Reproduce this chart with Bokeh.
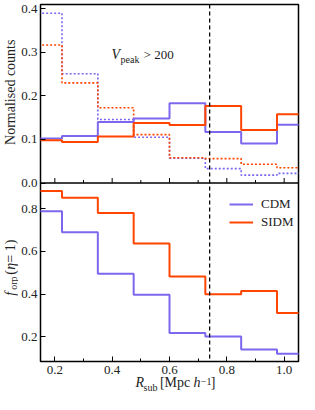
import math
from bokeh.plotting import figure
from bokeh.models import (Range1d, Span, Label, Legend, LegendItem, FixedTicker,
                          CustomJSTickFormatter, PrintfTickFormatter)
from bokeh.layouts import column, row
from bokeh.embed import file_html
from bokeh.resources import INLINE

# ---------------- data ----------------
bin_edges = [0.1, 0.225, 0.35, 0.475, 0.6, 0.725, 0.85, 0.975, 1.1]
cdm_counts = [0.102, 0.108, 0.140, 0.148, 0.183, 0.117, 0.091, 0.134]
sidm_counts = [0.098, 0.094, 0.107, 0.138, 0.133, 0.177, 0.122, 0.158]
cdm_counts_dotted = [0.390, 0.251, 0.146, 0.105, 0.057, 0.033, 0.018, 0.022]
sidm_counts_dotted = [0.317, 0.230, 0.173, 0.111, 0.058, 0.056, 0.043, 0.035]
cdm_forp = [0.788, 0.690, 0.495, 0.397, 0.218, 0.201, 0.140, 0.120]
sidm_forp = [0.883, 0.852, 0.780, 0.637, 0.482, 0.399, 0.415, 0.311]
r_cut = 0.74
x_ticks = [0.2, 0.4, 0.6, 0.8, 1.0]
x_minor = [0.3, 0.5, 0.7, 0.9]
top_y_ticks = [0.0, 0.1, 0.2, 0.3, 0.4]
bot_y_ticks = [0.2, 0.4, 0.6, 0.8]

CDM_C = "#7b68ee"
SIDM_C = "#ff4500"
TXT = "#222222"
SERIF = "Liberation Serif"

# top panel (0..TOP_MAX) occupies the upper half of the frame,
# bottom panel (BOT_MIN..BOT_MAX) the lower half
TOP_MAX = 0.41
BOT_MIN, BOT_MAX = 0.084, 0.921

YL_W = 18
MAIN_W = 284
MAIN_H = 376
XL_H = 18
LEFT = 19
RIGHT = 4
TOP = 4

main = figure(width=MAIN_W, height=MAIN_H,
              x_range=Range1d(0.15, 1.05), y_range=Range1d(-TOP_MAX, TOP_MAX),
              output_backend="svg", toolbar_location=None,
              min_border_left=LEFT, min_border_right=RIGHT,
              min_border_top=TOP, min_border_bottom=0)
main.extra_y_ranges = {"bot": Range1d(BOT_MIN, BOT_MAX + (BOT_MAX - BOT_MIN))}
main.outline_line_color = "black"
main.outline_line_width = 1.5
main.xgrid.visible = False
main.ygrid.visible = False


def to_main(v):
    # bottom-panel value -> position on the main y range
    return -TOP_MAX + (v - BOT_MIN) / (BOT_MAX - BOT_MIN) * TOP_MAX


yt = top_y_ticks + [to_main(v) for v in bot_y_ticks]

for ax in (main.xaxis[0], main.yaxis[0]):
    ax.axis_line_color = None
    ax.major_tick_in = 5
    ax.major_tick_out = 0
    ax.minor_tick_in = 3
    ax.minor_tick_out = 0
    ax.major_tick_line_color = "black"
    ax.minor_tick_line_color = "black"
    ax.major_label_text_font = SERIF
    ax.major_label_text_font_size = "13px"
    ax.major_label_text_color = TXT
main.xaxis[0].formatter = PrintfTickFormatter(format="%.1f")
main.xaxis[0].ticker = FixedTicker(ticks=x_ticks, minor_ticks=x_minor)
main.xaxis[0].major_label_standoff = 4
main.yaxis[0].ticker = FixedTicker(ticks=yt)
main.yaxis[0].formatter = CustomJSTickFormatter(
    args=dict(tmax=TOP_MAX, bmin=BOT_MIN, bmax=BOT_MAX),
    code="""
    if (tick > -1e-9) { return Math.abs(tick).toFixed(1); }
    const v = bmin + (tick + tmax) / tmax * (bmax - bmin);
    return v.toFixed(1);
    """)
main.yaxis[0].major_label_standoff = 3


def steps(vals, color, dash="solid", width=2.0, rng="default"):
    return main.step(x=bin_edges, y=vals + [vals[-1]], mode="after",
                     line_color=color, line_width=width, line_dash=dash,
                     y_range_name=rng)


# top panel
steps(cdm_counts_dotted, CDM_C, dash="2 2", width=1.6)
steps(sidm_counts_dotted, SIDM_C, dash="2 2", width=1.6)
steps(cdm_counts, CDM_C)
steps(sidm_counts, SIDM_C)
# bottom panel
r_cdm = steps(cdm_forp, CDM_C, rng="bot")
r_sidm = steps(sidm_forp, SIDM_C, rng="bot")

# panel divider with inward ticks pointing into the top panel
main.add_layout(Span(location=0, dimension="width", line_color="black", line_width=1.5))
main.ray(x=x_ticks, y=[0] * len(x_ticks), length=5, angle=math.pi / 2,
         length_units="screen", line_color="black", line_width=1)
main.ray(x=x_minor, y=[0] * len(x_minor), length=3, angle=math.pi / 2,
         length_units="screen", line_color="black", line_width=1)

main.add_layout(Span(location=r_cut, dimension="height", line_color="black",
                     line_dash="4 3", line_width=1.3))

vx, vy = 0.398, 0.279
main.add_layout(Label(x=vx, y=vy, text="V", text_font=SERIF, text_font_size="14px",
                      text_font_style="italic", text_color=TXT))
main.add_layout(Label(x=vx, y=vy, x_offset=9, y_offset=-3, text="peak",
                      text_font=SERIF, text_font_size="10px", text_color=TXT))
main.add_layout(Label(x=vx, y=vy, x_offset=32, text="> 200",
                      text_font=SERIF, text_font_size="13px", text_color=TXT))

legend = Legend(items=[LegendItem(label="CDM", renderers=[r_cdm]),
                       LegendItem(label="SIDM", renderers=[r_sidm])],
                location=(189, 131), border_line_color=None,
                background_fill_alpha=0, margin=0, padding=3, spacing=2,
                glyph_width=24, glyph_height=12, label_standoff=8,
                label_text_font=SERIF, label_text_font_size="13px",
                label_text_color=TXT)
main.add_layout(legend)


def strip(w, h):
    f = figure(width=w, height=h, x_range=Range1d(0, w), y_range=Range1d(0, h),
               output_backend="svg", toolbar_location=None,
               min_border=0, min_border_left=0, min_border_right=0,
               min_border_top=0, min_border_bottom=0)
    f.axis.visible = False
    f.xgrid.visible = False
    f.ygrid.visible = False
    f.outline_line_color = None
    return f


# ---------- y-label strip ----------
TOT_H = MAIN_H + XL_H
ylab = strip(YL_W, TOT_H)
frame_top = TOT_H - TOP
frame_bot = TOT_H - (MAIN_H - 21)
mid = (frame_top + frame_bot) / 2
top_c = (frame_top + mid) / 2
bot_c = (mid + frame_bot) / 2
cx = YL_W / 2 + 0.5
ylab.add_layout(Label(x=cx, y=top_c, angle=math.pi / 2, text="Normalised counts",
                      text_font=SERIF, text_font_size="14px", text_align="center",
                      text_baseline="middle", text_color=TXT))


def ypiece(text, off, dx=0, size="14px", style="normal"):
    ylab.add_layout(Label(x=cx + dx, y=bot_c - 28 + off, angle=math.pi / 2, text=text,
                          text_font=SERIF, text_font_size=size, text_font_style=style,
                          text_baseline="middle", text_color=TXT))


ypiece("f", 0, style="italic")
ypiece("orp", 6, dx=3, size="10px")
ypiece("(", 21)
ypiece("\u03b7", 26, style="italic")
ypiece(" = 1)", 33)

# ---------- x-label strip ----------
xlab = strip(MAIN_W, XL_H)
fx = LEFT + (MAIN_W - LEFT - RIGHT) / 2 - 45
by = 5


def xpiece(text, off, dy=0, size="14px", style="normal"):
    xlab.add_layout(Label(x=fx + off, y=by + dy, text=text, text_font=SERIF,
                          text_font_size=size, text_font_style=style, text_color=TXT))


xpiece("R", 0, style="italic")
xpiece("sub", 9, dy=-3, size="10px")
xpiece("[Mpc", 27)
xpiece("h", 64, style="italic")
xpiece("\u22121", 72, dy=5, size="10px")
xpiece("]", 83)

layout = row(ylab, column(main, xlab, spacing=0), spacing=0)
open("out.html", "w").write(file_html(layout, INLINE))
